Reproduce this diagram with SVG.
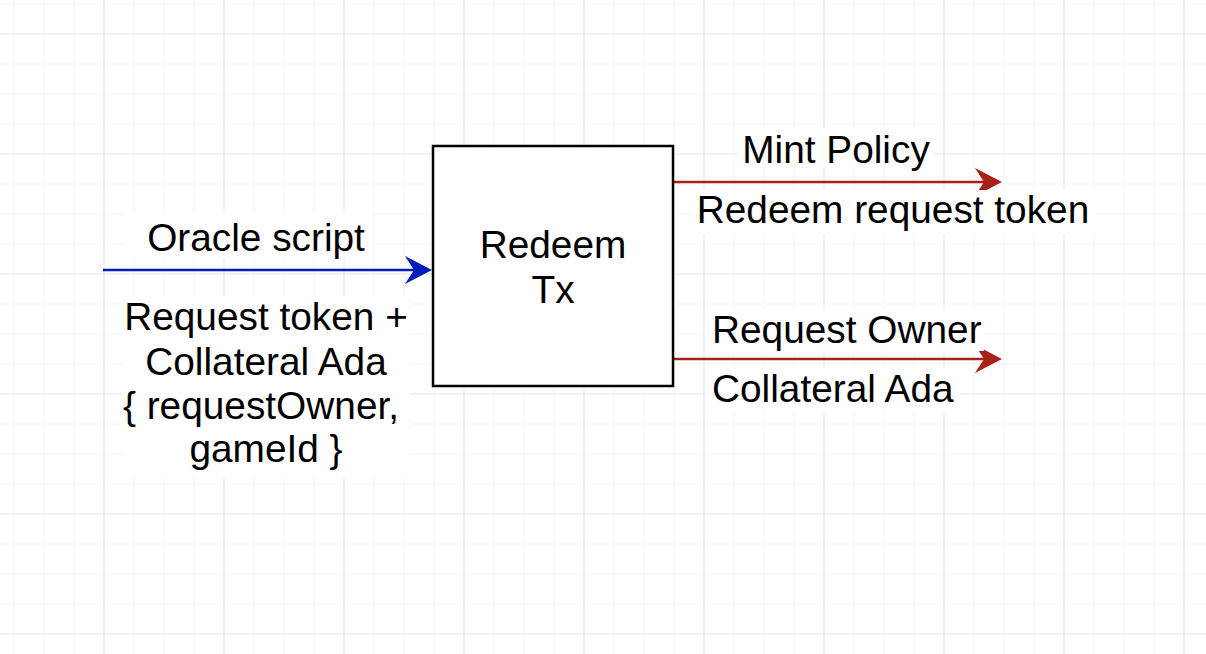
<svg xmlns="http://www.w3.org/2000/svg" width="1206" height="654" viewBox="0 0 1206 654">
  <defs>
    <pattern id="grid" patternUnits="userSpaceOnUse" x="103.5" y="33.5" width="120" height="120">
      <rect width="120" height="120" fill="#ffffff"/>
      <g fill="#f3f3f3">
        <rect x="30" y="0" width="1" height="120"/>
        <rect x="60" y="0" width="1" height="120"/>
        <rect x="90" y="0" width="1" height="120"/>
        <rect x="0" y="30" width="120" height="1"/>
        <rect x="0" y="60" width="120" height="1"/>
        <rect x="0" y="90" width="120" height="1"/>
      </g>
      <g fill="#e2e2e2">
        <rect x="0" y="0" width="1" height="120"/>
        <rect x="0" y="0" width="120" height="1"/>
      </g>
    </pattern>
    <marker id="arrowBlue" viewBox="0 0 27 28" refX="9" refY="14" markerWidth="27" markerHeight="28" markerUnits="userSpaceOnUse" orient="auto">
      <path d="M0,0 L27,14 L0,28 L9,14 Z" fill="#001DBC"/>
    </marker>
    <marker id="arrowRed" viewBox="0 0 27 28" refX="9" refY="14" markerWidth="27" markerHeight="28" markerUnits="userSpaceOnUse" orient="auto">
      <path d="M0,0 L27,14 L0,28 L9,14 Z" fill="#A8201A"/>
    </marker>
  </defs>
  <style>
    text { font-family: "Liberation Sans", Arial, Helvetica, sans-serif; font-size: 38.8px; fill: #000000; }
    .lbl-bg { fill: #ffffff; }
    .edge-blue { stroke: #001DBC; stroke-width: 2.5; fill: none; }
    .edge-red { stroke: #A8201A; stroke-width: 2.5; fill: none; }
    .node { fill: #ffffff; stroke: #000000; stroke-width: 2.5; }
  </style>

  <rect x="0" y="0" width="1206" height="654" fill="url(#grid)"/>

  <g id="connectors">
    <g id="edge-oracle">
      <line class="edge-blue" x1="103" y1="270" x2="414" y2="270" marker-end="url(#arrowBlue)"/>
      <rect class="lbl-bg" x="125" y="212" width="248" height="46"/>
      <text x="256" y="251" text-anchor="middle">Oracle script</text>
      <rect class="lbl-bg" x="122" y="296" width="288" height="182"/>
      <text x="266" y="330" text-anchor="middle">Request token +</text>
      <text x="266" y="375" text-anchor="middle">Collateral Ada</text>
      <text x="261" y="419" text-anchor="middle">{ requestOwner,</text>
      <text x="266" y="462" text-anchor="middle">gameId }</text>
    </g>
    <g id="edge-mint">
      <line class="edge-red" x1="673" y1="182" x2="984" y2="182" marker-end="url(#arrowRed)"/>
      <rect class="lbl-bg" x="738" y="128" width="195" height="40"/>
      <text x="836" y="163" text-anchor="middle">Mint Policy</text>
      <rect class="lbl-bg" x="691" y="190" width="404" height="44"/>
      <text x="893" y="223" text-anchor="middle">Redeem request token</text>
    </g>
    <g id="edge-owner">
      <line class="edge-red" x1="673" y1="359" x2="984" y2="359" marker-end="url(#arrowRed)"/>
      <rect class="lbl-bg" x="706" y="309" width="278" height="42"/>
      <text x="712" y="343">Request Owner</text>
      <rect class="lbl-bg" x="706" y="367" width="254" height="44"/>
      <text x="712" y="402">Collateral Ada</text>
    </g>
  </g>

  <g id="node-redeem-tx">
    <rect class="node" x="433" y="146" width="240" height="240"/>
    <text x="553" y="258" text-anchor="middle">Redeem</text>
    <text x="553" y="303" text-anchor="middle">Tx</text>
  </g>
</svg>
